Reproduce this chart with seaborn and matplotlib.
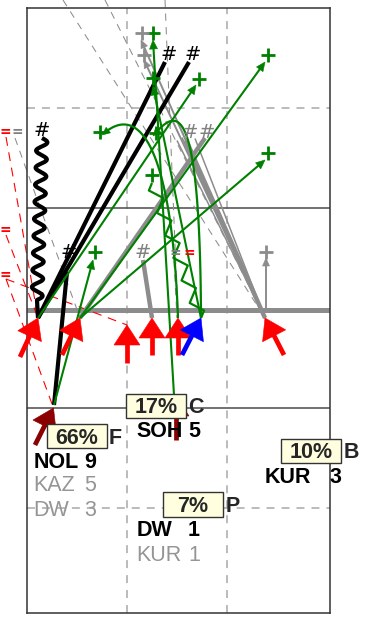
import numpy as np
import pandas as pd
import matplotlib
matplotlib.use("Agg")
import matplotlib.pyplot as plt
from matplotlib.patches import Polygon, Rectangle
import seaborn as sns

sns.set_style("white")
plt.rcParams["font.family"] = ["Liberation Sans", "DejaVu Sans"]

# ---------------- data (grid units, y grows downward) ----------------
# ground stations and the arrows pointing at them
st_x = [0.11, 0.53, 1.00, 1.25, 1.51, 1.74, 2.38]
st_y = [3.105, 3.105, 3.175, 3.105, 3.105, 3.105, 3.105]
tail_x = [-0.07, 0.35, 1.00, 1.25, 1.51, 1.55, 2.57]
tail_y = [3.495, 3.475, 3.555, 3.475, 3.475, 3.475, 3.475]
st_color = ["#ff0000", "#ff0000", "#ff0000", "#ff0000", "#ff0000", "#0000ff", "#ff0000"]

# lower (dark red) stations
low_x = [0.265, 1.49]
low_y = [4.005, 3.885]
low_tail_x = [0.08, 1.49]
low_tail_y = [4.375, 4.325]

# heavy black tracks
blk_x0 = [0.11, 0.11, 0.27]
blk_y0 = [3.105, 3.105, 3.975]
blk_x1 = [1.38, 1.62, 0.40]
blk_y1 = [0.545, 0.545, 2.645]

# heavy grey tracks
gry_x0 = [0.53, 2.38, 1.25]
gry_y0 = [3.105, 3.105, 3.105]
gry_x1 = [1.78, 1.59, 1.16]
gry_y1 = [1.305, 1.325, 2.525]

# thin grey tracks (no heads)
thin_x0 = [2.38, 2.38, 2.38]
thin_y0 = [3.105, 3.105, 3.105]
thin_x1 = [1.50, 1.55, 1.68]
thin_y1 = [1.33, 1.30, 1.31]

# thin grey arrows
garr_x0 = [2.38, 2.38, 2.39]
garr_y0 = [3.105, 3.105, 3.025]
garr_x1 = [1.14, 1.17, 2.39]
garr_y1 = [0.325, 0.525, 2.505]

# grey dashed rays
gd_x0 = [0.36, 0.78, 1.38, -0.12, 1.47]
gd_y0 = [-0.075, -0.075, -0.075, 1.305, 2.535]
gd_x1 = [2.38, 2.38, 1.51, 0.53, 1.50]
gd_y1 = [3.105, 3.105, 3.105, 3.105, 3.105]

# red dashed rays
rd_x0 = [-0.21, -0.21, -0.21, -0.21]
rd_y0 = [1.295, 2.275, 2.715, 2.715]
rd_x1 = [0.11, 0.11, 1.00, 0.265]
rd_y1 = [3.105, 3.105, 3.175, 4.005]

# green arrows
grn_x0 = [1.47, 1.74, 0.11, 0.53, 0.53, 0.27]
grn_y0 = [3.875, 3.105, 3.105, 3.105, 3.105, 3.975]
grn_x1 = [1.26, 1.26, 1.69, 2.38, 2.38, 0.66]
grn_y1 = [0.325, 0.785, 0.775, 0.545, 1.525, 2.525]

# green curved arrows (cubic control points)
curve_pts = [
    [(1.51, 3.105), (1.45, 1.425), (1.13, 0.925), (0.75, 1.275)],
    [(1.74, 3.105), (1.73, 0.825), (1.48, 1.025), (1.26, 1.285)],
]

# symbol labels
hash_x = [0.15, 1.42, 1.66, 0.42, 1.63, 1.80, 1.16]
hash_y = [1.29, 0.53, 0.53, 2.51, 1.30, 1.30, 2.50]
hash_c = ["black", "black", "black", "black", "#808080", "#808080", "#808080"]

plus_x = [1.26, 1.26, 1.715, 2.405, 2.405, 0.68, 0.73, 1.25, 1.29]
plus_y = [0.255, 0.705, 0.715, 0.475, 1.455, 2.445, 1.245, 1.675, 1.255]
gplus_x = [1.15, 1.17, 2.39]
gplus_y = [0.255, 0.475, 2.445]

eq_x = [-0.215, -0.10, -0.215, -0.215, 1.48, 1.62]
eq_y = [1.245, 1.245, 2.225, 2.675, 2.455, 2.455]
eq_c = ["#ff0000", "#808080", "#ff0000", "#ff0000", "#808080", "#ff0000"]

# percentage boxes
pct_value = [66, 17, 10, 7]
pct_letter = ["F", "C", "B", "P"]
pct_cx = [0.495, 1.29, 2.84, 1.66]
pct_cy = [4.285, 3.985, 4.435, 4.97]

# name / count rows
row_name = ["NOL", "KAZ", "DW", "SOH", "DW", "KUR", "KUR"]
row_count = ["9", "5", "3", "5", "1", "1", "3"]
row_bold = [True, False, False, True, True, False, True]
row_x = [0.065, 0.065, 0.065, 1.095, 1.095, 1.095, 2.375]
row_xr = [0.69, 0.69, 0.69, 1.73, 1.73, 1.73, 3.14]
row_y = [4.605, 4.835, 5.085, 4.295, 5.285, 5.535, 4.755]

FS = 15.5

# ---------------- helpers ----------------
def seg_df(x0, y0, x1, y1):
    xs, ys, ids = [], [], []
    for i in range(len(x0)):
        xs += [x0[i], x1[i]]
        ys += [y0[i], y1[i]]
        ids += [i, i]
    return pd.DataFrame({"seg": ids, "x": xs, "y": ys})


def draw_lines(ax, df, color, lw, ls="-", z=3):
    sns.lineplot(data=df, x="x", y="y", units="seg", estimator=None, sort=False,
                 color=color, lw=lw, linestyle=ls, zorder=z, ax=ax,
                 clip_on=False, solid_capstyle="butt", dash_capstyle="butt")


def head(ax, sx, sy, tx, ty, L, W, color, z):
    d = np.hypot(tx - sx, ty - sy)
    ux, uy = (tx - sx) / d, (ty - sy) / d
    bx, by = tx - L * ux, ty - L * uy
    nx, ny = -uy, ux
    ax.add_patch(Polygon([(tx, ty), (bx + W * nx, by + W * ny), (bx - W * nx, by - W * ny)],
                         closed=True, fc=color, ec=color, lw=0.4, zorder=z, clip_on=False))
    return bx + 0.02 * ux, by + 0.02 * uy


def shorten(x0, y0, x1, y1, by):
    ex, ey = [], []
    for i in range(len(x0)):
        d = np.hypot(x1[i] - x0[i], y1[i] - y0[i])
        ex.append(x1[i] - by * (x1[i] - x0[i]) / d)
        ey.append(y1[i] - by * (y1[i] - y0[i]) / d)
    return ex, ey


def big_arrow(ax, sx, sy, tx, ty, color, z=6):
    bx, by = head(ax, sx, sy, tx, ty, 0.20, 0.13, color, z)
    ax.plot([sx, bx], [sy, by], color=color, lw=3.4, solid_capstyle="butt", zorder=z, clip_on=False)


def bezier(p, n=80):
    t = np.linspace(0, 1, n)[:, None]
    p = np.array(p)
    return ((1 - t) ** 3 * p[0] + 3 * (1 - t) ** 2 * t * p[1]
            + 3 * (1 - t) * t ** 2 * p[2] + t ** 3 * p[3])


def zigzag(x0, y0, x1, y1, cycles, amp, smooth):
    d = np.hypot(x1 - x0, y1 - y0)
    nx, ny = -(y1 - y0) / d, (x1 - x0) / d
    if smooth:
        t = np.linspace(0, 1, 400)
        off = amp * np.sin(2 * np.pi * cycles * t)
    else:
        k = int(round(cycles * 4))
        t = np.linspace(0, 1, k + 1)
        off = amp * np.array([0, 1, 0, -1])[np.arange(k + 1) % 4]
    return x0 + (x1 - x0) * t + off * nx, y0 + (y1 - y0) * t + off * ny


# ---------------- figure ----------------
fig = plt.figure(figsize=(3.68, 6.19), dpi=100)
ax = fig.add_axes([27 / 368, 1 - 612.5 / 619, 303 / 368, 605 / 619])
ax.set_xlim(0, 3.03)
ax.set_ylim(6.05, 0)

# grid
for gx in (1.0, 2.0):
    ax.axvline(gx, color="#a8a8a8", lw=1.1, ls=(0, (5.2, 4.6)), zorder=1)
for gy in (1.0, 5.005):
    ax.axhline(gy, color="#a8a8a8", lw=1.1, ls=(0, (5.2, 4.6)), zorder=1)
for gy in (2.008, 4.005):
    ax.axhline(gy, color="#4a4a4a", lw=1.1, zorder=1)
ax.axhline(3.025, color="#8c8c8c", lw=3.6, zorder=2)

# dashed rays
draw_lines(ax, seg_df(gd_x0, gd_y0, gd_x1, gd_y1), "#8c8c8c", 0.75, (0, (7, 6)), 2)
draw_lines(ax, seg_df(rd_x0, rd_y0, rd_x1, rd_y1), "#ff0000", 0.8, (0, (8, 6)), 2)

# grey tracks
draw_lines(ax, seg_df(thin_x0, thin_y0, thin_x1, thin_y1), "#8c8c8c", 1.1, "-", 3)
draw_lines(ax, seg_df(gry_x0, gry_y0, gry_x1, gry_y1), "#8c8c8c", 3.2, "-", 3)
for i in range(len(garr_x0)):
    head(ax, garr_x0[i], garr_y0[i], garr_x1[i], garr_y1[i], 0.08, 0.035, "#8c8c8c", 3)
gex, gey = shorten(garr_x0, garr_y0, garr_x1, garr_y1, 0.06)
draw_lines(ax, seg_df(garr_x0, garr_y0, gex, gey), "#8c8c8c", 1.4, "-", 3)

# black tracks
draw_lines(ax, seg_df(blk_x0, blk_y0, blk_x1, blk_y1), "black", 3.0, "-", 3.5)
zx, zy = zigzag(0.10, 2.925, 0.15, 1.305, 9.5, 0.055, True)
zdf = pd.DataFrame({"seg": 0, "x": np.r_[0.11, zx], "y": np.r_[3.105, zy]})
draw_lines(ax, zdf, "black", 3.0, "-", 3.5)

# green arrows
for i in range(len(grn_x0)):
    head(ax, grn_x0[i], grn_y0[i], grn_x1[i], grn_y1[i], 0.09, 0.04, "#008000", 4)
gnx, gny = shorten(grn_x0, grn_y0, grn_x1, grn_y1, 0.06)
draw_lines(ax, seg_df(grn_x0, grn_y0, gnx, gny), "#008000", 1.5, "-", 4)

for cp in curve_pts:
    pts = bezier(cp)
    cdf = pd.DataFrame({"seg": 0, "x": pts[:-3, 0], "y": pts[:-3, 1]})
    draw_lines(ax, cdf, "#008000", 1.6, "-", 4)
    head(ax, pts[-6, 0], pts[-6, 1], pts[-1, 0], pts[-1, 1], 0.08, 0.035, "#008000", 4)

gx, gy = zigzag(1.74, 3.105, 1.25, 1.755, 6, 0.055, False)
draw_lines(ax, pd.DataFrame({"seg": 0, "x": gx, "y": gy}), "#008000", 1.6, "-", 4)

# station arrows
for i in range(len(st_x)):
    big_arrow(ax, tail_x[i], tail_y[i], st_x[i], st_y[i], st_color[i])
for i in range(len(low_x)):
    big_arrow(ax, low_tail_x[i], low_tail_y[i], low_x[i], low_y[i], "#8b0000", 5)

# symbol labels
for x, y, c in zip(hash_x, hash_y, hash_c):
    ax.text(x, y, "#", color=c, fontsize=14, family="DejaVu Sans",
            ha="center", va="baseline", zorder=7)
sns.scatterplot(x=plus_x, y=plus_y, marker="+", s=95, color="#008000",
                linewidth=2.0, zorder=7, ax=ax, clip_on=False)
sns.scatterplot(x=gplus_x, y=gplus_y, marker="+", s=95, color="#8c8c8c",
                linewidth=2.0, zorder=7, ax=ax, clip_on=False)
for x, y, c in zip(eq_x, eq_y, eq_c):
    ax.text(x, y, "=", color=c, fontsize=10, family="DejaVu Sans", fontweight="bold",
            ha="center", va="center", zorder=7, clip_on=False)

# percentage boxes
for v, letter, cx, cy in zip(pct_value, pct_letter, pct_cx, pct_cy):
    ax.add_patch(Rectangle((cx - 0.30, cy - 0.12), 0.60, 0.24, fc="#ffffe0",
                           ec="#333333", lw=1.0, zorder=8, clip_on=False))
    ax.text(cx, cy + 0.075, f"{v}%", ha="center", va="baseline", fontsize=FS,
            fontweight="bold", zorder=9)
    ax.text(cx + 0.325, cy + 0.075, letter, ha="left", va="baseline", fontsize=FS,
            fontweight="bold", zorder=9, clip_on=False)

# name / count rows
for nm, cnt, bold, x, xr, y in zip(row_name, row_count, row_bold, row_x, row_xr, row_y):
    col = "black" if bold else "#959595"
    w = "bold" if bold else "normal"
    ax.text(x, y, nm, ha="left", va="baseline", fontsize=FS, fontweight=w,
            color=col, zorder=9)
    ax.text(xr, y, cnt, ha="right", va="baseline", fontsize=FS, fontweight=w,
            color=col, zorder=9, clip_on=False)

ax.set_xticks([])
ax.set_yticks([])
ax.set(xlabel="", ylabel="")
for s in ax.spines.values():
    s.set_color("#333333")
    s.set_linewidth(1.1)

fig.savefig("out.png", dpi=100)
